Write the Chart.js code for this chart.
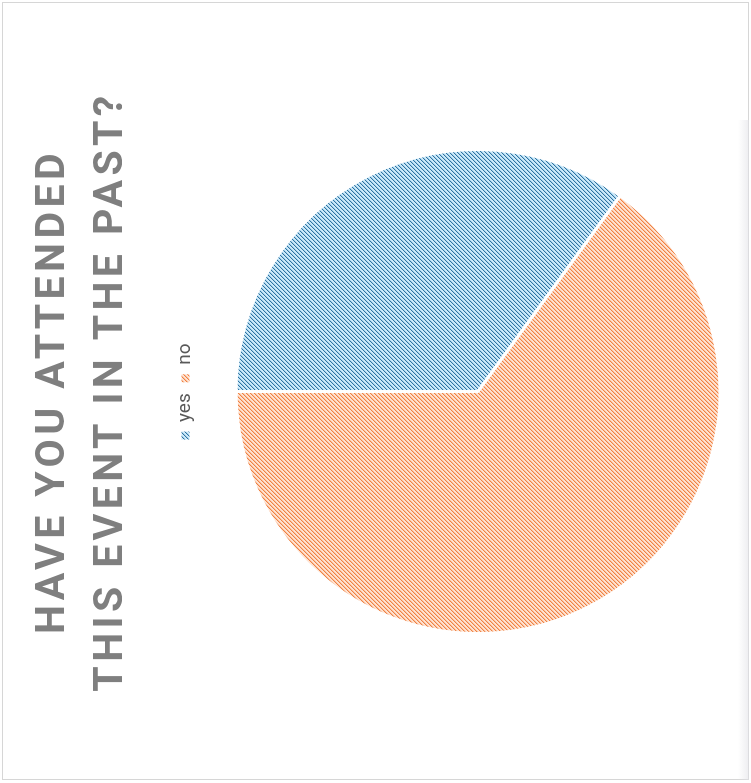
<!DOCTYPE html>
<html>
<head>
<meta charset="utf-8">
<script src="https://cdn.jsdelivr.net/npm/chart.js@4"></script>
<style>
  body { margin: 0; background: #fff; }
  .frame { position: absolute; left: 2px; top: 2px; width: 747px; height: 778px; box-sizing: border-box; border: 1px solid #d6d6d6; }
  .edge { position: absolute; left: 738px; top: 120px; width: 11px; height: 660px; background: linear-gradient(to right, rgba(235,235,238,0), rgba(225,225,230,0.6)); }
  /* chart is drawn upright then turned a quarter counter-clockwise */
  .wrap { position: absolute; left: 0; top: 0; width: 783px; height: 751px; transform-origin: 0 0; transform: translateY(783px) rotate(-90deg); }
</style>
</head>
<body>
<div class="frame"></div>
<div class="edge"></div>
<div class="wrap"><canvas id="c"></canvas></div>
<script>
const labels = ["yes", "no"];
const values = [35, 65];
const titleLines = ["HAVE YOU ATTENDED", "THIS EVENT IN THE PAST?"];

// diagonal hatch like the office "dark upward diagonal" fill
function hatch(bg, mid, fg) {
  const t = document.createElement("canvas");
  t.width = 4; t.height = 4;
  const g = t.getContext("2d");
  g.fillStyle = bg;
  g.fillRect(0, 0, 4, 4);
  for (let i = 0; i < 4; i++) {
    g.fillStyle = fg;
    g.fillRect(i, 3 - i, 1, 1);
    g.fillStyle = mid;
    g.fillRect((i + 1) % 4, 3 - i, 1, 1);
  }
  return document.getElementById("c").getContext("2d").createPattern(t, "repeat");
}

const fills = [
  hatch("#cdeafa", "#a3d0ea", "#2f72a0"),
  hatch("#fee2d1", "#fabf9c", "#ef8142")
];

// title gets wide letter spacing
const spacing = {
  id: "spacing",
  start(chart) {
    const tb = chart.titleBlock;
    const draw = tb.draw.bind(tb);
    tb.draw = function () {
      chart.ctx.letterSpacing = "4.4px";
      draw();
      chart.ctx.letterSpacing = "0px";
    };
  }
};

new Chart(document.getElementById("c"), {
  type: "pie",
  data: {
    labels: labels,
    datasets: [{
      data: values,
      backgroundColor: fills,
      borderColor: "#fff",
      borderWidth: 3,
      radius: 242
    }]
  },
  options: {
    responsive: true,
    maintainAspectRatio: false,
    animation: false,
    layout: { padding: { top: 25, bottom: 0 } },
    plugins: {
      title: {
        display: true,
        text: titleLines,
        color: "#7f7f7f",
        font: { family: "Roboto", size: 41, weight: "bold", lineHeight: 58 / 41 },
        padding: { top: 0, bottom: 24 }
      },
      legend: {
        position: "top",
        labels: {
          color: "#595959",
          font: { family: "Roboto", size: 19 },
          boxWidth: 8,
          boxHeight: 8,
          padding: 11,
          generateLabels(chart) {
            return Chart.overrides.pie.plugins.legend.labels.generateLabels(chart).map(l => ({ ...l, lineWidth: 0, strokeStyle: "rgba(0,0,0,0)" }));
          }
        }
      },
      tooltip: { enabled: false }
    }
  },
  plugins: [spacing]
});
</script>
</body>
</html>
